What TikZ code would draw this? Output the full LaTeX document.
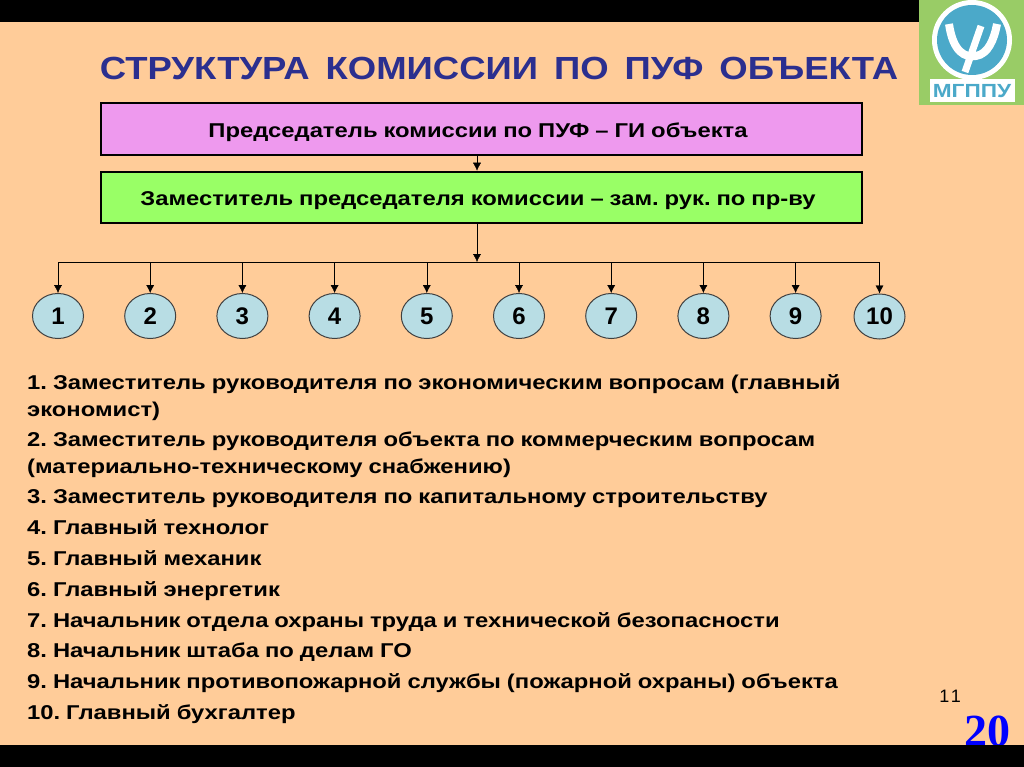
\documentclass[tikz,border=0pt]{standalone}
\usepackage{fontspec}
\setmainfont{Liberation Sans}
\newfontfamily\numfont{Liberation Serif}
\newfontfamily\widefont[FakeStretch=1.19,WordSpace=0.9]{Liberation Sans}
\newfontfamily\titlefont[FakeStretch=1.14]{Liberation Sans}
\usetikzlibrary{arrows.meta,positioning,shapes.geometric}
\definecolor{peach}{HTML}{FFCC99}
\definecolor{pinkbox}{HTML}{EE99EE}
\definecolor{greenbox}{HTML}{99FF66}
\definecolor{circlefill}{HTML}{B8DDE4}
\definecolor{titleblue}{HTML}{2B2F8F}
\definecolor{logogreen}{HTML}{99CC66}
\definecolor{logoblue}{HTML}{4BA9C9}
\frenchspacing
\tikzset{
    head/.style = {draw, line width=2.5pt, minimum width=761pt, inner sep=0pt, text height=21.5pt, text depth=5pt, execute at end node={\kern7pt}, font=\widefont\bfseries\fontsize{20}{20}\selectfont},
    num/.style = {draw=black!75, line width=1pt, ellipse, fill=circlefill, minimum width=51pt, minimum height=45pt, inner sep=0pt, font=\bfseries\fontsize{24}{24}\selectfont},
    item/.style = {anchor=west, inner sep=0pt, text height=15pt, text depth=5pt, font=\widefont\bfseries\fontsize{20}{20}\selectfont}
}
\begin{document}
\begin{tikzpicture}[x=1pt, y=-1pt, node distance=40.2pt, >={Latex[length=8pt,width=8pt]}]
    \useasboundingbox (0,0) rectangle (1024,767);
    % Fondo
    \fill [peach] (0,0) rectangle (1024,767);
    \node [font=\numfont\bfseries\fontsize{46}{46}\selectfont, text=blue, inner sep=0pt] (pagina) at (987,731) {20};
    \fill [black] (0,0) rectangle (1024,22);
    \fill [black] (0,745) rectangle (1024,767);
    % Logo
    \fill [logogreen] (919,0) rectangle (1024,105);
    \fill [white] (972,40) circle [radius=40];
    \fill [logoblue] (972,40) circle [radius=35];
    \draw [white, line width=8pt] (949,24) .. controls (953,52) and (965,58) .. (976,56) .. controls (988,54) and (994,40) .. (997,24);
    \draw [white, line width=7pt] (981,26) -- (965,72);
    \node [fill=white, minimum width=85pt, minimum height=23pt, inner sep=0pt, text=logoblue, font=\widefont\bfseries\fontsize{19}{19}\selectfont] (logo) at (972,91) {МГППУ};
    % Titulo
    \node [text=titleblue, inner sep=0pt, font=\titlefont\bfseries\fontsize{32}{32}\selectfont] (titulo) at (499,68) {СТРУКТУРА\hspace{16pt}КОМИССИИ\hspace{16pt}ПО\hspace{16pt}ПУФ\hspace{16pt}ОБЪЕКТА};
    % Nodos
    \node [head, fill=pinkbox, minimum height=52pt] (chair) at (481.5,129) {Председатель комиссии по ПУФ – ГИ объекта};
    \node [head, fill=greenbox, minimum height=51pt] (deputy) at (481.5,197.5) {Заместитель председателя комиссии – зам. рук. по пр-ву};
    \coordinate (bus) at (477,262);
    \node [num] (c1) at (58,316) {1};
    \node [num, right=of c1] (c2) {2};
    \node [num, right=of c2] (c3) {3};
    \node [num, right=of c3] (c4) {4};
    \node [num, right=of c4] (c5) {5};
    \node [num, right=of c5] (c6) {6};
    \node [num, right=of c6] (c7) {7};
    \node [num, right=of c7] (c8) {8};
    \node [num, right=of c8] (c9) {9};
    \node [num] (c10) at (879.5,316.5) {10};
    % Flechas
    \draw [->] (chair.south -| bus) -- (deputy.north -| bus);
    \draw [->] (deputy.south -| bus) -- (bus);
    \draw (c1 |- bus) -- (c10 |- bus);
    \draw [->] (c1 |- bus) -- (c1);
    \draw [->] (c2 |- bus) -- (c2);
    \draw [->] (c3 |- bus) -- (c3);
    \draw [->] (c4 |- bus) -- (c4);
    \draw [->] (c5 |- bus) -- (c5);
    \draw [->] (c6 |- bus) -- (c6);
    \draw [->] (c7 |- bus) -- (c7);
    \draw [->] (c8 |- bus) -- (c8);
    \draw [->] (c9 |- bus) -- (c9);
    \draw [->] (c10 |- bus) -- (c10);
    % Lista
    \node [item] (l1) at (27,384) {1. Заместитель руководителя по экономическим вопросам (главный};
    \node [item] (l1b) at (27,411) {экономист)};
    \node [item] (l2) at (27,441) {2. Заместитель руководителя объекта по коммерческим вопросам};
    \node [item] (l2b) at (27,468) {(материально-техническому снабжению)};
    \node [item] (l3) at (27,498.3) {3. Заместитель руководителя по капитальному строительству};
    \node [item] (l4) at (27,529.3) {4. Главный технолог};
    \node [item] (l5) at (27,560.7) {5. Главный механик};
    \node [item] (l6) at (27,591) {6. Главный энергетик};
    \node [item] (l7) at (27,622) {7. Начальник отдела охраны труда и технической безопасности};
    \node [item] (l8) at (27,652.7) {8. Начальник штаба по делам ГО};
    \node [item] (l9) at (27,683.3) {9. Начальник противопожарной службы (пожарной охраны) объекта};
    \node [item] (l10) at (27,714.3) {10. Главный бухгалтер};
    \node [inner sep=0pt, font=\fontsize{18}{18}\selectfont] (numero) at (950,696) {1\kern1.5pt 1};
\end{tikzpicture}
\end{document}
